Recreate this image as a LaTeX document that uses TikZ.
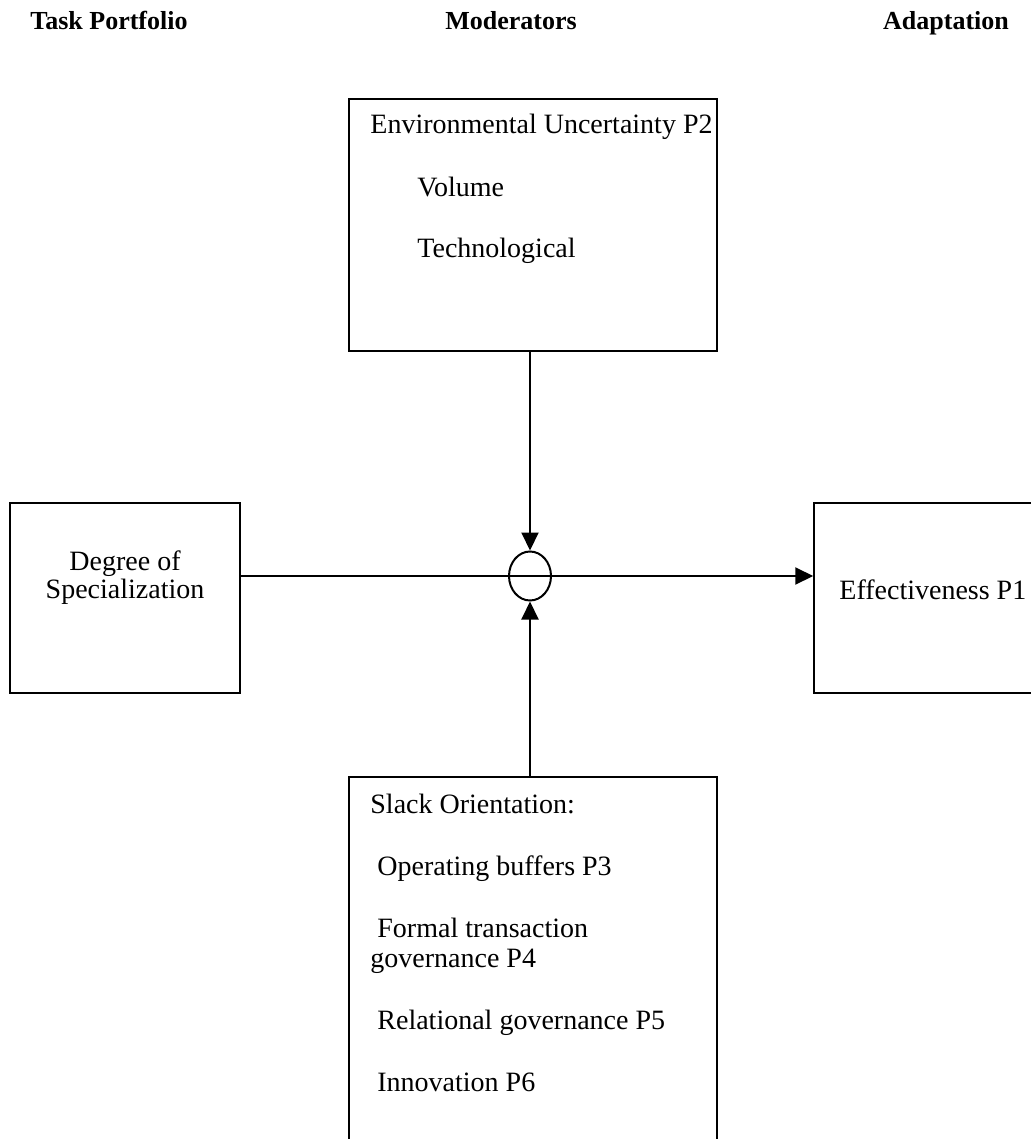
\documentclass[tikz,border=0pt]{standalone}
\usepackage{fontspec}
\setmainfont{Liberation Serif}
\usetikzlibrary{arrows.meta,shapes.geometric}
\tikzset{
	box/.style={draw,line width=0.75pt,inner sep=0pt},
	txt/.style={anchor=base west,inner sep=0pt,font=\fontsize{14}{14}\selectfont},
	hdr/.style={anchor=base,inner sep=0pt,font=\fontsize{13}{15}\selectfont\bfseries},
	arr/.style={line width=1pt,-{Triangle[length=9pt,width=8.5pt]}}
}
\begin{document}
\begin{tikzpicture}[x=0.5pt,y=-0.5pt]
	\useasboundingbox (0,0) rectangle (1031,1139);
	\clip (0,0) rectangle (1031,1139);
	\node [hdr] (h1) at (109,30) {Task Portfolio};
	\node [hdr] (h2) at (511,30) {Moderators};
	\node [hdr] (h3) at (946,30) {Adaptation};
	\node [box,minimum width=184pt,minimum height=126pt] (env) at (533,225) {};
	\node [txt] (envt) at (370,134) {Environmental Uncertainty P2};
	\node [txt] (vol) at (417,197) {Volume};
	\node [txt] (tech) at (417,257) {Technological};
	\node [box,minimum width=115pt,minimum height=95pt] (spec) at (125,598) {};
	\node [txt,anchor=base] (spec1) at (125,570) {Degree of};
	\node [txt,anchor=base] (spec2) at (125,598) {Specialization};
	\node [box,minimum width=118pt,minimum height=95pt] (eff) at (932,598) {};
	\node [txt] (efft) at (839,599) {Effectiveness P1};
	\node [draw,ellipse,line width=1pt,inner sep=0pt,minimum width=21pt,minimum height=24.5pt] (join) at (530,576) {};
	\node [box,minimum width=184pt,minimum height=191.5pt] (slack) at (533,968.5) {};
	\node [txt] (slt) at (370,813) {Slack Orientation:};
	\node [txt] (p3) at (377,875) {Operating buffers P3};
	\node [txt] (p4a) at (377,937) {Formal transaction};
	\node [txt] (p4b) at (370,967) {governance P4};
	\node [txt] (p5) at (377,1029) {Relational governance P5};
	\node [txt] (p6) at (377,1091) {Innovation P6};
	\draw [arr] (join |- env.south) -- (join.north);
	\draw [arr] (join |- slack.north) -- (join.south);
	\draw [arr] (spec.east |- join) -- (eff.west |- join);
\end{tikzpicture}
\end{document}
